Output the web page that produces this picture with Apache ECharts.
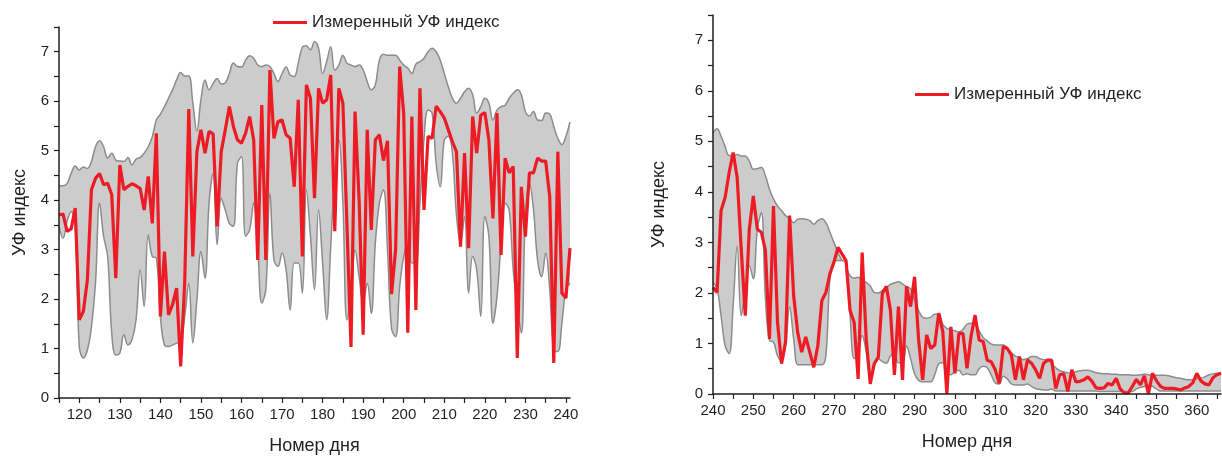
<!DOCTYPE html>
<html>
<head>
<meta charset="utf-8">
<script src="https://cdn.jsdelivr.net/npm/echarts@6/dist/echarts.min.js"></script>
<style>
  html, body { margin: 0; padding: 0; background: #fff; }
  #chart { width: 1222px; height: 456px; }
</style>
</head>
<body>
<div id="chart"></div>
<script>
// --- left panel: days 115..241
var leftStart = 115;
var leftMeasured = [3.70, 3.72, 3.37, 3.42, 3.84, 1.58, 1.75, 2.39, 4.21, 4.44, 4.54, 4.31, 4.34, 4.11, 2.42, 4.71, 4.21, 4.28, 4.33, 4.29,
    4.24, 3.80, 4.48, 3.53, 5.35, 1.65, 2.96, 1.68, 1.89, 2.22, 0.64, 2.35, 5.84, 2.86, 4.98, 5.42, 4.95, 5.39, 5.34, 3.47,
    4.98, 5.42, 5.89, 5.49, 5.22, 5.15, 5.35, 5.69, 5.22, 2.79, 5.92, 2.79, 6.63, 5.25, 5.59, 5.62, 5.32, 5.25, 4.27, 6.03,
    2.86, 6.33, 6.06, 4.04, 6.26, 5.96, 6.03, 6.53, 3.37, 6.26, 5.96, 3.50, 1.03, 5.79, 4.00, 1.28, 5.42, 3.40, 5.22, 5.32,
    4.80, 5.20, 2.10, 3.00, 6.70, 5.75, 1.32, 5.69, 1.78, 6.26, 3.80, 5.29, 5.25, 5.90, 5.79, 5.66, 5.42, 5.18, 4.98, 3.06,
    4.95, 3.03, 5.69, 4.95, 5.72, 5.77, 5.22, 3.63, 5.76, 2.89, 4.85, 4.55, 4.68, 0.81, 4.27, 3.26, 4.55, 4.55, 4.85, 4.79,
    4.79, 4.07, 0.71, 4.98, 2.12, 2.02, 3.03];
var leftUpper = [4.29, 4.29, 4.34, 4.54, 4.69, 4.61, 4.67, 4.64, 4.78, 5.08, 5.20, 5.08, 4.85, 4.95, 4.81, 4.79, 4.78, 4.86, 4.71, 4.83,
    4.86, 4.95, 5.08, 5.28, 5.62, 5.74, 5.89, 6.06, 6.23, 6.43, 6.58, 6.51, 6.51, 5.96, 5.40, 6.03, 6.43, 6.23, 6.36, 6.46,
    6.35, 6.37, 6.56, 6.77, 6.70, 6.69, 6.83, 6.92, 6.87, 6.73, 6.70, 6.73, 6.70, 6.56, 6.40, 6.56, 6.69, 6.53, 6.50, 6.77,
    7.09, 7.12, 7.04, 7.20, 7.07, 6.56, 6.80, 7.10, 6.63, 6.73, 6.93, 6.77, 6.73, 6.70, 6.73, 6.63, 6.40, 6.23, 6.33, 6.83,
    6.95, 6.93, 6.93, 6.93, 6.83, 6.73, 6.67, 6.56, 6.75, 6.80, 6.87, 7.00, 7.07, 7.00, 6.83, 6.56, 6.29, 6.06, 5.96, 6.06,
    6.19, 6.26, 6.13, 5.76, 5.89, 6.06, 5.96, 5.62, 5.82, 5.89, 5.92, 6.06, 6.16, 6.23, 6.13, 5.79, 5.70, 5.79, 5.62, 5.61,
    5.76, 5.74, 5.49, 5.25, 5.12, 5.29, 5.58];
var leftLower = [3.47, 3.23, 3.57, 3.77, 3.47, 1.04, 0.81, 0.97, 1.44, 2.32, 3.94, 3.27, 2.86, 1.31, 0.87, 0.91, 1.28, 1.07, 1.18, 1.58,
    2.59, 1.85, 3.30, 2.86, 2.83, 1.65, 1.07, 1.04, 1.07, 1.11, 1.14, 1.65, 2.32, 1.11, 1.98, 2.96, 2.42, 3.94, 4.54, 3.10,
    4.04, 3.80, 3.53, 3.47, 4.74, 4.88, 3.27, 3.40, 3.94, 3.06, 1.92, 2.19, 4.14, 2.79, 2.66, 2.93, 2.59, 1.78, 2.73, 2.73,
    2.12, 4.21, 3.27, 2.19, 3.80, 2.73, 1.58, 3.06, 4.48, 5.22, 3.94, 1.58, 2.12, 2.99, 2.45, 1.92, 2.32, 1.71, 3.13, 3.94,
    4.21, 2.99, 1.40, 1.24, 2.25, 2.86, 3.13, 2.73, 2.73, 3.94, 5.22, 5.82, 5.76, 4.74, 4.27, 5.22, 5.29, 4.95, 3.70, 3.13,
    3.67, 2.12, 2.86, 2.59, 1.65, 3.67, 3.27, 1.51, 2.05, 3.13, 3.94, 3.80, 2.59, 1.85, 1.31, 3.67, 4.34, 3.80, 2.79, 2.45,
    2.93, 2.19, 0.97, 0.94, 1.51, 2.19, 2.32];

// --- right panel: days 240..366
var rightStart = 240;
var rightMeasured = [2.11, 2.01, 3.63, 3.89, 4.38, 4.78, 4.28, 2.87, 1.55, 3.26, 3.92, 3.26, 3.20, 2.84, 1.09, 3.72, 1.42, 0.60, 1.03, 3.53,
    1.95, 1.22, 0.83, 1.13, 0.83, 0.53, 0.96, 1.85, 2.01, 2.38, 2.61, 2.90, 2.77, 2.64, 1.65, 1.42, 0.30, 2.80, 1.09, 0.20,
    0.60, 0.73, 1.99, 2.13, 1.66, 0.38, 1.73, 0.28, 2.13, 1.73, 2.32, 1.07, 0.28, 1.17, 0.90, 0.97, 1.60, 1.23, 0.00, 1.33,
    0.41, 1.20, 1.20, 0.51, 1.14, 1.56, 1.07, 1.04, 0.67, 0.64, 0.48, 0.21, 0.94, 0.90, 0.77, 0.28, 0.74, 0.28, 0.67, 0.61,
    0.48, 0.31, 0.61, 0.67, 0.67, 0.11, 0.38, 0.40, 0.05, 0.48, 0.24, 0.25, 0.28, 0.34, 0.25, 0.12, 0.11, 0.12, 0.21, 0.18,
    0.31, 0.10, 0.02, 0.02, 0.15, 0.29, 0.18, 0.36, 0.00, 0.41, 0.26, 0.15, 0.11, 0.11, 0.11, 0.10, 0.08, 0.12, 0.15, 0.22,
    0.41, 0.26, 0.20, 0.18, 0.32, 0.38, 0.41];
var rightUpper = [5.17, 5.25, 5.10, 4.90, 4.72, 4.72, 4.74, 4.71, 4.71, 4.61, 4.45, 4.46, 4.48, 4.32, 4.05, 3.86, 3.72, 3.63, 3.53, 3.47,
    3.39, 3.46, 3.47, 3.46, 3.43, 3.36, 3.43, 3.47, 3.39, 3.20, 3.00, 2.80, 2.64, 2.51, 2.34, 2.29, 2.31, 2.24, 2.21, 2.14,
    2.01, 2.00, 2.05, 2.10, 2.17, 2.20, 2.22, 2.18, 2.12, 2.08, 1.85, 1.65, 1.52, 1.50, 1.52, 1.58, 1.58, 1.38, 1.30, 1.28,
    1.25, 1.23, 1.28, 1.38, 1.40, 1.38, 1.25, 1.12, 1.05, 0.99, 0.97, 0.97, 0.97, 0.90, 0.82, 0.75, 0.72, 0.68, 0.70, 0.74,
    0.74, 0.70, 0.68, 0.67, 0.60, 0.52, 0.46, 0.44, 0.42, 0.41, 0.44, 0.46, 0.47, 0.47, 0.45, 0.42, 0.41, 0.40, 0.40, 0.39,
    0.39, 0.38, 0.38, 0.38, 0.37, 0.37, 0.38, 0.39, 0.38, 0.37, 0.37, 0.37, 0.37, 0.36, 0.34, 0.32, 0.31, 0.29, 0.28, 0.28,
    0.30, 0.31, 0.34, 0.38, 0.40, 0.41, 0.41];
var rightLower = [2.21, 2.08, 1.55, 0.96, 0.80, 1.75, 2.93, 1.55, 2.08, 2.54, 2.28, 3.26, 3.59, 1.88, 1.06, 1.03, 0.76, 0.66, 0.96, 1.72,
    1.09, 0.58, 0.58, 0.58, 0.58, 0.58, 0.58, 0.58, 0.76, 2.28, 2.62, 2.64, 2.64, 2.57, 1.55, 0.70, 0.83, 1.16, 0.83, 0.37,
    0.57, 0.70, 0.64, 0.61, 0.75, 0.80, 0.62, 0.62, 0.95, 0.70, 0.40, 0.27, 0.24, 0.24, 0.24, 0.38, 0.60, 0.62, 0.42, 0.38,
    0.45, 0.47, 0.38, 0.40, 0.38, 0.38, 0.50, 0.55, 0.52, 0.38, 0.22, 0.20, 0.35, 0.30, 0.20, 0.18, 0.18, 0.18, 0.20, 0.15,
    0.11, 0.09, 0.08, 0.08, 0.10, 0.06, 0.06, 0.06, 0.06, 0.06, 0.06, 0.06, 0.06, 0.06, 0.06, 0.06, 0.05, 0.05, 0.05, 0.05,
    0.05, 0.05, 0.05, 0.05, 0.05, 0.10, 0.13, 0.15, 0.18, 0.15, 0.10, 0.06, 0.06, 0.06, 0.06, 0.06, 0.06, 0.06, 0.06, 0.06,
    0.06, 0.06, 0.06, 0.06, 0.06, 0.06, 0.06];

// ticks
var leftLabels = [120, 130, 140, 150, 160, 170, 180, 190, 200, 210, 220, 230, 240];
var leftTickMarks = [115, 120, 125, 130, 135, 140, 145, 150, 155, 160, 165, 170, 175, 180, 185, 190, 195, 200, 205, 210, 215, 220, 225, 230, 235, 240];
var rightLabels = [240, 250, 260, 270, 280, 290, 300, 310, 320, 330, 340, 350, 360];
var rightTickMarks = [240, 245, 250, 255, 260, 265, 270, 275, 280, 285, 290, 295, 300, 305, 310, 315, 320, 325, 330, 335, 340, 345, 350, 355, 360, 365];
var yLabels = [0, 1, 2, 3, 4, 5, 6, 7];
var yTickMarks = [0, 0.5, 1, 1.5, 2, 2.5, 3, 3.5, 4, 4.5, 5, 5.5, 6, 6.5, 7, 7.5];

var seriesName = 'Измеренный УФ индекс';
var fontFamily = "'Liberation Sans', Arial, sans-serif";

function pairs(start, values) {
    return values.map(function (v, i) { return [start + i, v]; });
}

function xAxis(grid, min, max, labels, marks) {
    return {
        gridIndex: grid, type: 'value', min: min, max: max, z: 10,
        name: 'Номер дня', nameLocation: 'middle', nameGap: 39,
        nameTextStyle: { fontSize: 18, color: '#231f20', fontFamily: fontFamily },
        axisLine: { lineStyle: { color: '#231f20', width: 1.5 } },
        axisTick: { customValues: marks, length: 5, lineStyle: { color: '#231f20', width: 1.2 } },
        axisLabel: { customValues: labels, fontSize: 15, color: '#231f20', fontFamily: fontFamily, margin: 9 },
        splitLine: { show: false }
    };
}
function yAxis(grid, gap) {
    return {
        gridIndex: grid, type: 'value', min: 0, max: 7.5, z: 10,
        name: 'УФ индекс', nameLocation: 'middle', nameGap: gap, nameRotate: 90,
        nameTextStyle: { fontSize: 18, color: '#231f20', fontFamily: fontFamily },
        axisLine: { show: true, lineStyle: { color: '#231f20', width: 1.5 } },
        axisTick: { show: true, customValues: yTickMarks, length: 5, lineStyle: { color: '#231f20', width: 1.2 } },
        axisLabel: { customValues: yLabels, fontSize: 15, color: '#231f20', fontFamily: fontFamily, margin: 10 },
        splitLine: { show: false }
    };
}
// gray band: upper curve filled grey to the axis, lower curve filled white on top of it
function bandSeries(idx, start, lo, hi, measured) {
    return [{
        type: 'line', name: 'hi' + idx, xAxisIndex: idx, yAxisIndex: idx,
        data: pairs(start, hi), smooth: 0.4, symbol: 'none',
        lineStyle: { color: '#8c8c8c', width: 1.5 },
        areaStyle: { color: '#cccccc', opacity: 1, origin: 'start' }, z: 2
    }, {
        type: 'line', name: 'lo' + idx, xAxisIndex: idx, yAxisIndex: idx,
        data: pairs(start, lo), smooth: 0.4, symbol: 'none',
        lineStyle: { color: '#8c8c8c', width: 1.5 },
        areaStyle: { color: '#ffffff', opacity: 1, origin: 'start' }, z: 3
    }, {
        type: 'line', name: seriesName, xAxisIndex: idx, yAxisIndex: idx,
        data: pairs(start, measured), symbol: 'none',
        lineStyle: { color: '#ed1c24', width: 3.2 }, itemStyle: { color: '#ed1c24' }, z: 4
    }];
}

var myChart = echarts.init(document.getElementById('chart'));
var legendBase = {
    data: [seriesName], icon: 'rect', itemWidth: 34, itemHeight: 3, itemGap: 8,
    textStyle: { fontSize: 17, color: '#231f20', fontFamily: fontFamily }
};
var option = {
    animation: false,
    textStyle: { fontFamily: fontFamily },
    grid: [
        { left: 59, top: 27, right: 652, bottom: 58, outerBoundsMode: 'none' },
        { left: 713, top: 15, right: 1, bottom: 62, outerBoundsMode: 'none' }
    ],
    legend: [
        Object.assign({ left: 268, top: 9 }, legendBase),
        Object.assign({ left: 910, top: 81 }, legendBase)
    ],
    xAxis: [
        xAxis(0, 115, 241, leftLabels, leftTickMarks),
        xAxis(1, 240, 366, rightLabels, rightTickMarks)
    ],
    yAxis: [yAxis(0, 30), yAxis(1, 45)],
    series: bandSeries(0, leftStart, leftLower, leftUpper, leftMeasured)
        .concat(bandSeries(1, rightStart, rightLower, rightUpper, rightMeasured))
};
myChart.setOption(option);
</script>
</body>
</html>
